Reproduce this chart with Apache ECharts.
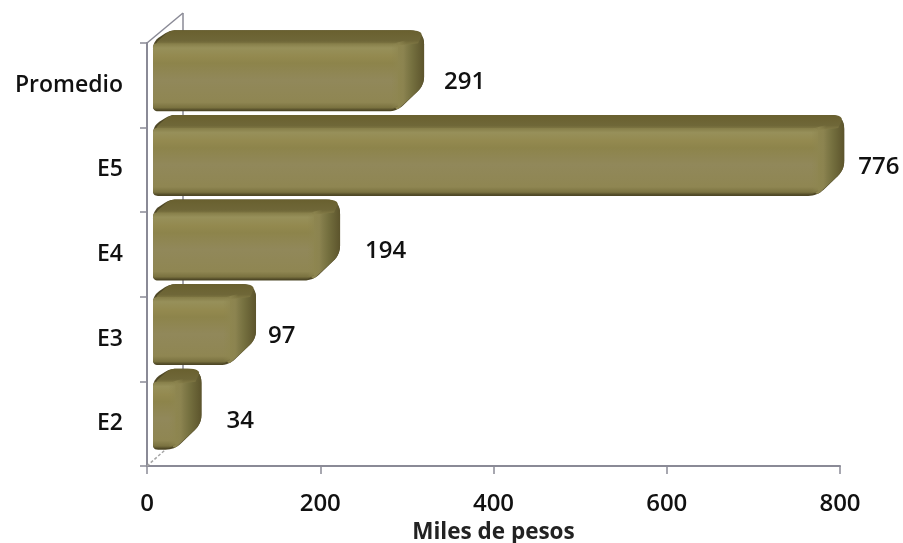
<!DOCTYPE html>
<html>
<head>
<meta charset="utf-8">
<style>html,body{margin:0;padding:0;background:#fff}#c{width:903px;height:543px}</style>
<script src="https://cdn.jsdelivr.net/npm/echarts@6/dist/echarts.min.js"></script>
</head>
<body>
<div id="c"></div>
<script>
const categories = ['E2', 'E3', 'E4', 'E5', 'Promedio'];
const values = [34, 97, 194, 776, 291];
const xTicks = [0, 200, 400, 600, 800];
const axisTitle = 'Miles de pesos';

const labelNudge = [6, -7, 6, -5, 1];
const FONT = '"Open Sans", sans-serif';
const AXIS = '#8a8a96';

function rounded(pts, radii) {
  const out = [], n = pts.length;
  for (let i = 0; i < n; i++) {
    const p = pts[i], a = pts[(i + n - 1) % n], b = pts[(i + 1) % n], r = radii[i];
    if (!r) { out.push(p); continue; }
    const la = Math.hypot(a[0] - p[0], a[1] - p[1]), lb = Math.hypot(b[0] - p[0], b[1] - p[1]);
    const ra = Math.min(r, la / 2), rb = Math.min(r, lb / 2);
    const s = [p[0] + (a[0] - p[0]) * ra / la, p[1] + (a[1] - p[1]) * ra / la];
    const e = [p[0] + (b[0] - p[0]) * rb / lb, p[1] + (b[1] - p[1]) * rb / lb];
    for (let t = 0; t <= 1.001; t += 0.125) {
      const u = 1 - t;
      out.push([u * u * s[0] + 2 * u * t * p[0] + t * t * e[0], u * u * s[1] + 2 * u * t * p[1] + t * t * e[1]]);
    }
  }
  return out;
}
function grad(vertical, stops) {
  return { type: 'linear', x: 0, y: 0, x2: vertical ? 0 : 1, y2: vertical ? 1 : 0,
    colorStops: stops.map(s => ({ offset: s[0], color: s[1] })) };
}
function poly(points, fill) {
  return { type: 'polygon', shape: { points }, style: { fill }, silent: true };
}

function renderWall(params, api) {
  const cs = params.coordSys;
  const left = cs.x, top = cs.y, bottom = cs.y + cs.height;
  const line = (x1, y1, x2, y2, extra) => ({ type: 'line', shape: { x1, y1, x2, y2 }, silent: true,
    style: Object.assign({ stroke: AXIS, lineWidth: 1.5, fill: null }, extra || {}) });
  return { type: 'group', children: [
    line(left, top, left + 36, top - 30),
    line(left + 36, top - 30, left + 36, bottom - 90),
    line(left, bottom, left + 18, bottom - 16, { lineDash: [3, 2], stroke: '#a5a5a5' })
  ] };
}

function renderBar(params, api) {
  const i = api.value(1), v = api.value(0);
  const end = api.coord([v, i]);
  const base = api.coord([0, i]);
  const cy = end[1];
  const x0 = base[0] + 6, x1 = end[0] + 1, x2 = end[0] + 25;
  const yT = cy - 55, yF = cy - 42, yB = cy + 26, yS = cy;

  const silhouette = rounded(
    [[x0, yF - 2], [x0 + 17, yT], [x2, yT], [x2, yS], [x1 - 3, yB], [x0, yB]],
    [8, 6, 14, 9, 9, 5]);
  const topFace = rounded(
    [[x0, yF + 2], [x0 + 17, yT], [x2, yT], [x2 - 6, yF], [x1, yF + 2]],
    [8, 6, 14, 0, 0]);
  const side = rounded(
    [[x1 - 4, yF + 1], [x2 - 7, yT + 2], [x2, yT + 7], [x2, yS], [x1 - 3, yB - 1], [x1 - 6, yB - 5]],
    [0, 4, 8, 9, 4, 0]);
  const front = rounded(
    [[x0, yF], [x1 - 2, yF], [x1 - 2, yB - 5], [x1 - 9, yB - 1], [x0, yB - 1]],
    [4, 5, 0, 3, 4]);
  const seam = [[x1 - 9, yF + 1], [x1 + 6, yF - 3], [x1 + 6, yB - 9], [x1 - 9, yB - 3]];

  return { type: 'group', children: [
    poly(silhouette, '#4f4826'),
    poly(side, grad(false, [[0, '#8d854e'], [0.3, '#8b8350'], [0.6, '#75703f'], [1, '#5c542c']])),
    poly(topFace, grad(true, [[0, '#69602f'], [0.7, '#6f6738'], [1, '#857d48']])),
    poly(front, grad(true, [[0, '#857d48'], [0.07, '#97905a'], [0.2, '#93894f'], [0.3, '#8d844b'],
      [0.55, '#91885a'], [0.88, '#8f8652'], [0.96, '#7a7240'], [1, '#4f4826']])),
    poly(seam, grad(false, [[0, 'rgba(142,134,80,0)'], [0.5, 'rgba(142,134,80,0.75)'], [1, 'rgba(142,134,80,0)']])),
    { type: 'text', silent: true, style: {
        text: String(v), x: end[0] + 44 + labelNudge[i], y: cy - 3,
        verticalAlign: 'middle', align: 'left',
        font: '600 24px ' + FONT, fill: '#111' } }
  ] };
}

const chart = echarts.init(document.getElementById('c'), null, { renderer: 'canvas' });
chart.setOption({
  animation: false,
  backgroundColor: '#fff',
  grid: { left: 147, right: 63, top: 43, bottom: 77, containLabel: false, outerBoundsMode: 'none' },
  xAxis: {
    type: 'value', min: xTicks[0], max: xTicks[xTicks.length - 1], interval: 200,
    name: axisTitle, nameLocation: 'middle', nameGap: 55,
    nameTextStyle: { fontFamily: FONT, fontSize: 22.5, fontWeight: 'bold', color: '#222' },
    axisLine: { show: true, lineStyle: { color: AXIS, width: 2 } },
    axisTick: { show: true, length: 8, lineStyle: { color: AXIS, width: 1.5 } },
    axisLabel: { fontFamily: FONT, fontSize: 24, color: '#111', margin: 26, fontWeight: 600 },
    splitLine: { show: false }
  },
  yAxis: {
    type: 'category', data: categories,
    axisLine: { show: true, lineStyle: { color: AXIS, width: 2 } },
    axisTick: { show: true, length: 7, lineStyle: { color: AXIS, width: 1.5 } },
    axisLabel: { fontFamily: FONT, fontSize: 23, color: '#111', margin: 24, fontWeight: 600,
      padding: [8, 0, 0, 0] },
    splitLine: { show: false }
  },
  series: [
    { type: 'custom', coordinateSystem: 'cartesian2d', renderItem: renderWall, data: [[0, 0]],
      encode: { x: 0, y: 1 }, z: 1 },
    { type: 'custom', coordinateSystem: 'cartesian2d', renderItem: renderBar,
      data: values.map((v, i) => [v, i]), encode: { x: 0, y: 1 }, z: 2, clip: false }
  ]
});
</script>
</body>
</html>
